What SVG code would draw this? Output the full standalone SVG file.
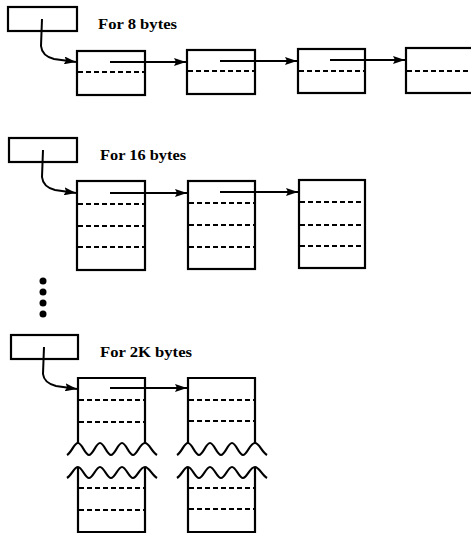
<svg xmlns="http://www.w3.org/2000/svg" width="471" height="534" viewBox="0 0 471 534">
<style>
.box{fill:none;stroke:#000;stroke-width:2.2}
.dash{fill:none;stroke:#000;stroke-width:2.2;stroke-dasharray:5 3}
.ptr{fill:none;stroke:#000;stroke-width:2}
.lbl{font-family:"Liberation Serif",serif;font-weight:bold;font-size:14px;fill:#000}
.wave{fill:none;stroke:#000;stroke-width:2.2}
</style>
<defs>
<marker id="ah" viewBox="0 0 12 8" refX="12" refY="4" markerWidth="12" markerHeight="8" markerUnits="userSpaceOnUse" orient="auto">
<path d="M0,0 L12,4 L0,8 L2,4 z" fill="#000"/>
</marker>
</defs>
<rect width="471" height="534" fill="#fff"/>

<!-- Row 1: 8 bytes -->
<g id="head8"><rect class="box" x="8" y="7" width="69" height="24"/></g>
<text class="lbl" x="98" y="29" textLength="79" lengthAdjust="spacingAndGlyphs">For 8 bytes</text>
<g id="n8a"><rect class="box" x="77" y="51" width="68" height="44"/><line class="dash" x1="78" y1="72" x2="144" y2="72"/></g>
<g id="n8b"><rect class="box" x="187" y="50" width="68" height="44"/><line class="dash" x1="188" y1="71" x2="254" y2="71"/></g>
<g id="n8c"><rect class="box" x="298" y="49" width="67" height="44"/><line class="dash" x1="299" y1="71" x2="364" y2="71"/></g>
<g id="n8d"><rect class="box" x="406" y="48" width="70" height="45"/><line class="dash" x1="407" y1="71" x2="471" y2="71"/></g>

<!-- Row 2: 16 bytes -->
<g id="head16"><rect class="box" x="9" y="138" width="68" height="24"/></g>
<text class="lbl" x="100" y="160" textLength="86" lengthAdjust="spacingAndGlyphs">For 16 bytes</text>
<g id="n16a"><rect class="box" x="77" y="181" width="68" height="89"/><line class="dash" x1="78" y1="204" x2="144" y2="204"/><line class="dash" x1="78" y1="226" x2="144" y2="226"/><line class="dash" x1="78" y1="247" x2="144" y2="247"/></g>
<g id="n16b"><rect class="box" x="188" y="181" width="67" height="88"/><line class="dash" x1="189" y1="203" x2="254" y2="203"/><line class="dash" x1="189" y1="225" x2="254" y2="225"/><line class="dash" x1="189" y1="247" x2="254" y2="247"/></g>
<g id="n16c"><rect class="box" x="299" y="180" width="66" height="88"/><line class="dash" x1="300" y1="202" x2="364" y2="202"/><line class="dash" x1="300" y1="225" x2="364" y2="225"/><line class="dash" x1="300" y1="246" x2="364" y2="246"/></g>

<!-- ellipsis dots -->
<g id="dots" fill="#000">
<circle cx="43" cy="281" r="3.5"/><circle cx="43" cy="292" r="3.5"/><circle cx="43" cy="303" r="3.5"/><circle cx="43" cy="314" r="3.5"/>
</g>

<!-- Row 3: 2K bytes -->
<g id="head2k"><rect class="box" x="11" y="335" width="67" height="24"/></g>
<text class="lbl" x="100" y="357" textLength="92" lengthAdjust="spacingAndGlyphs">For 2K bytes</text>
<g id="n2ka">
<path class="box" d="M78,443 L78,378 L145,378 L145,443"/>
<path class="wave" d="M67,455 C72,452 74,443 78,443 C82,443 85,455 89,455 C93,455 96,443 100,443 C104,443 107,455 111,455 C115,455 118,443 122,443 C126,443 129,455 133,455 C137,455 140,443 145,443 C149,443 152,452 157,455"/>
<line class="dash" x1="79" y1="400" x2="144" y2="400"/><line class="dash" x1="79" y1="422" x2="144" y2="422"/>
<path class="wave" d="M67,478 C72,475 74,467 78,467 C82,467 85,478 89,478 C93,478 96,467 100,467 C104,467 107,478 111,478 C115,478 118,467 122,467 C126,467 129,478 133,478 C137,478 140,467 145,467 C149,467 152,475 157,478"/>
<path class="box" d="M78,467 L78,532 L145,532 L145,467"/>
<line class="dash" x1="79" y1="488" x2="144" y2="488"/><line class="dash" x1="79" y1="510" x2="144" y2="510"/>
</g>
<g id="n2kb">
<path class="box" d="M188,443 L188,378 L255,378 L255,443"/>
<path class="wave" d="M177,455 C182,452 184,443 188,443 C192,443 195,455 199,455 C203,455 206,443 210,443 C214,443 217,455 221,455 C225,455 228,443 232,443 C236,443 239,455 243,455 C247,455 250,443 255,443 C259,443 262,452 267,455"/>
<line class="dash" x1="189" y1="400" x2="254" y2="400"/><line class="dash" x1="189" y1="421" x2="254" y2="421"/>
<path class="wave" d="M177,478 C182,475 184,467 188,467 C192,467 195,478 199,478 C203,478 206,467 210,467 C214,467 217,478 221,478 C225,478 228,467 232,467 C236,467 239,478 243,478 C247,478 250,467 255,467 C259,467 262,475 267,478"/>
<path class="box" d="M188,467 L188,532 L255,532 L255,467"/>
<line class="dash" x1="189" y1="488" x2="254" y2="488"/><line class="dash" x1="189" y1="509" x2="254" y2="509"/>
</g>

<!-- connectors -->
<g id="connectors">
<path class="ptr" d="M42,19 L41,46 Q42,56 54,59 L76,62" marker-end="url(#ah)"/>
<path class="ptr" d="M110,62 L186,62" marker-end="url(#ah)"/>
<path class="ptr" d="M220,61 L297,61" marker-end="url(#ah)"/>
<path class="ptr" d="M330,60 L405,60" marker-end="url(#ah)"/>
<path class="ptr" d="M43,150 L42,177 Q43,187 55,190 L76,193" marker-end="url(#ah)"/>
<path class="ptr" d="M110,193 L187,193" marker-end="url(#ah)"/>
<path class="ptr" d="M220,192 L298,192" marker-end="url(#ah)"/>
<path class="ptr" d="M44,347 L43,374 Q44,383 56,386 L77,389" marker-end="url(#ah)"/>
<path class="ptr" d="M110,388 L187,388" marker-end="url(#ah)"/>
</g>
</svg>
